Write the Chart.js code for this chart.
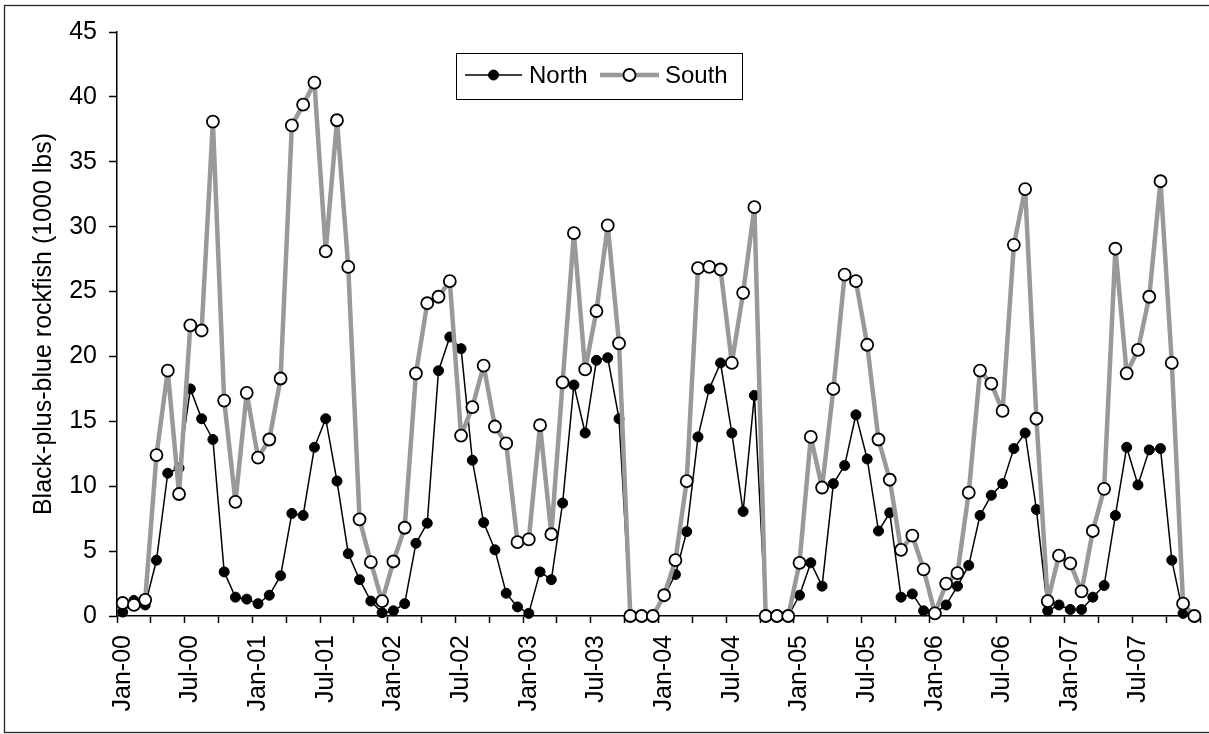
<!DOCTYPE html>
<html>
<head>
<meta charset="utf-8">
<title>Black-plus-blue rockfish</title>
<script src="https://cdn.jsdelivr.net/npm/chart.js@4.4.1/dist/chart.umd.min.js"></script>
<style>
  html, body { margin: 0; padding: 0; background: #fff; overflow: hidden; }
  #wrap { position: relative; width: 1209px; height: 734px; }
</style>
</head>
<body>
<div id="wrap"><canvas id="chart" width="1209" height="734"></canvas></div>
<script>
// Monthly landings, Jan 2000 - Dec 2007
const years = ['00', '01', '02', '03', '04', '05', '06', '07'];
const monthNames = ['Jan', 'Feb', 'Mar', 'Apr', 'May', 'Jun', 'Jul', 'Aug', 'Sep', 'Oct', 'Nov', 'Dec'];
const seriesNames = ['North', 'South'];

const north = [
  0.3, 1.2, 0.85, 4.3, 11.0, 11.4, 17.5, 15.2, 13.6, 3.4, 1.45, 1.3,
  0.95, 1.6, 3.1, 7.9, 7.75, 13.0, 15.2, 10.4, 4.8, 2.8, 1.15, 0.25,
  0.4, 0.95, 5.6, 7.15, 18.9, 21.5, 20.6, 12.0, 7.2, 5.1, 1.75, 0.7,
  0.2, 3.4, 2.8, 8.7, 17.8, 14.1, 19.7, 19.9, 15.2, 0, 0, 0,
  1.5, 3.2, 6.5, 13.8, 17.5, 19.5, 14.1, 8.05, 17.0, 0, 0, 0,
  1.6, 4.1, 2.3, 10.2, 11.6, 15.5, 12.1, 6.55, 7.95, 1.45, 1.7, 0.4,
  0.2, 0.85, 2.3, 3.9, 7.75, 9.3, 10.2, 12.9, 14.1, 8.2, 0.4, 0.85,
  0.5, 0.5, 1.45, 2.35, 7.75, 13.0, 10.1, 12.8, 12.9, 4.3, 0.2, 0
];
const south = [
  1.0, 0.85, 1.25, 12.4, 18.9, 9.4, 22.4, 22.0, 38.1, 16.6, 8.8, 17.2,
  12.2, 13.6, 18.3, 37.8, 39.4, 41.1, 28.1, 38.2, 26.9, 7.45, 4.15, 1.15,
  4.2, 6.8, 18.7, 24.1, 24.6, 25.8, 13.9, 16.1, 19.3, 14.6, 13.3, 5.7,
  5.9, 14.7, 6.3, 18.0, 29.5, 19.0, 23.5, 30.1, 21.0, 0, 0, 0,
  1.6, 4.3, 10.4, 26.8, 26.9, 26.7, 19.5, 24.9, 31.5, 0, 0, 0,
  4.1, 13.8, 9.9, 17.5, 26.3, 25.8, 20.9, 13.6, 10.5, 5.1, 6.2, 3.6,
  0.2, 2.5, 3.3, 9.5, 18.9, 17.9, 15.8, 28.6, 32.9, 15.2, 1.15, 4.65,
  4.05, 1.9, 6.55, 9.8, 28.3, 18.7, 20.5, 24.6, 33.5, 19.5, 0.95, 0
];
const yMin = 0, yMax = 45, yStep = 5;

const months = [];
years.forEach(y => monthNames.forEach(m => months.push(m + '-' + y)));

const FONT = "'Liberation Sans', Arial, sans-serif";
const axisFont = { family: FONT, size: 25 };

// white page + thin frame round the chart
const framePlugin = {
  id: 'frame',
  beforeDraw(chart) {
    const ctx = chart.ctx;
    ctx.save();
    ctx.fillStyle = '#fff';
    ctx.fillRect(0, 0, chart.width, chart.height);
    ctx.strokeStyle = '#222';
    ctx.lineWidth = 1.3;
    ctx.strokeRect(4.5, 5.5, chart.width + 10, 727);
    ctx.restore();
  }
};

// boxed legend inside the plot: line - marker - line, then the name
const lineLegend = {
  id: 'lineLegend',
  afterDraw(chart) {
    const ctx = chart.ctx;
    const items = [
      { ds: chart.data.datasets[0], x0: 465, x1: 522, label: 529 },
      { ds: chart.data.datasets[1], x0: 600, x1: 659, label: 665 }
    ];
    const y = 75;
    ctx.save();
    ctx.strokeStyle = '#000';
    ctx.lineWidth = 1;
    ctx.strokeRect(456.5, 53.5, 286, 46);
    items.forEach(it => {
      ctx.strokeStyle = it.ds.borderColor;
      ctx.lineWidth = it.ds.borderWidth;
      ctx.beginPath();
      ctx.moveTo(it.x0, y);
      ctx.lineTo(it.x1, y);
      ctx.stroke();
      ctx.beginPath();
      ctx.arc((it.x0 + it.x1) / 2, y, it.ds.pointRadius, 0, Math.PI * 2);
      ctx.fillStyle = it.ds.pointBackgroundColor;
      ctx.fill();
      ctx.lineWidth = it.ds.pointBorderWidth;
      ctx.strokeStyle = it.ds.pointBorderColor;
      ctx.stroke();
      ctx.fillStyle = '#000';
      ctx.font = '24px ' + FONT;
      ctx.textBaseline = 'middle';
      ctx.textAlign = 'left';
      ctx.fillText(it.ds.label, it.label, y + 1);
    });
    ctx.restore();
  }
};

new Chart(document.getElementById('chart'), {
  type: 'line',
  data: {
    labels: months,
    datasets: [
      {
        label: seriesNames[0],
        data: north,
        order: 2,
        borderColor: '#000',
        borderWidth: 1.5,
        borderJoinStyle: 'round',
        pointRadius: 5,
        pointBackgroundColor: '#000',
        pointBorderColor: '#000',
        pointBorderWidth: 1,
        tension: 0,
        clip: false
      },
      {
        label: seriesNames[1],
        data: south,
        order: 1,
        borderColor: '#999999',
        borderWidth: 4.5,
        borderJoinStyle: 'round',
        borderCapStyle: 'round',
        pointRadius: 6,
        pointBackgroundColor: '#fff',
        pointBorderColor: '#000',
        pointBorderWidth: 1.8,
        tension: 0,
        clip: false
      }
    ]
  },
  options: {
    responsive: false,
    animation: false,
    devicePixelRatio: 1,
    layout: { padding: { left: 0, top: 32, right: 9, bottom: 0 } },
    plugins: {
      legend: { display: false },
      tooltip: { enabled: false }
    },
    scales: {
      x: {
        type: 'category',
        offset: true,
        grid: {
          offset: true,
          drawOnChartArea: false,
          tickLength: 7,
          tickWidth: 1.5,
          tickColor: ctx => (ctx.index === undefined || ctx.index % 3 === 0) ? '#000' : 'rgba(0,0,0,0)'
        },
        border: { color: '#000', width: 1.5 },
        ticks: {
          autoSkip: false,
          minRotation: 90,
          maxRotation: 90,
          padding: 12,
          color: '#000',
          font: axisFont,
          callback: function (v, i) { return i % 6 === 0 ? this.getLabelForValue(v) : ''; }
        },
        afterFit: s => { s.height = 118; s.paddingLeft = 0; s.paddingRight = 0; }
      },
      y: {
        min: yMin,
        max: yMax,
        grid: {
          drawOnChartArea: false,
          tickLength: 8,
          tickWidth: 1.5,
          tickColor: '#000'
        },
        border: { color: '#000', width: 1.5 },
        ticks: { stepSize: yStep, padding: 12, color: '#000', font: axisFont },
        title: {
          display: true,
          text: 'Black-plus-blue rockfish (1000 lbs)',
          color: '#000',
          font: axisFont,
          padding: { top: 29, bottom: 0 }
        },
        afterFit: s => { s.width = 117; }
      }
    }
  },
  plugins: [framePlugin, lineLegend]
});
</script>
</body>
</html>
